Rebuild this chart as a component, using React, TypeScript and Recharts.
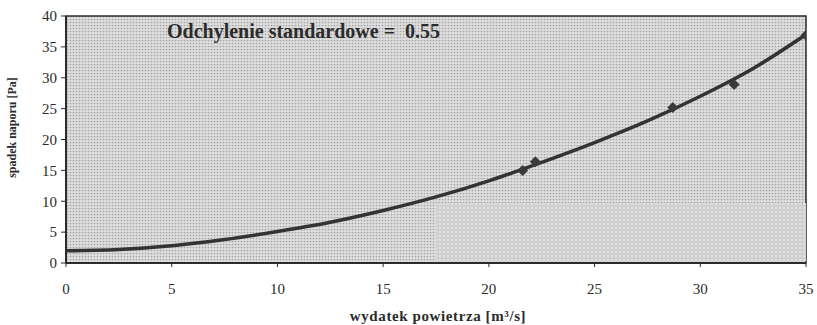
import { ComposedChart, Line, Scatter, XAxis, YAxis, ReferenceArea } from 'recharts';

// wydatek powietrza [m3/s] vs spadek naporu [Pa] - measured points
const measuredX = [21.6, 22.2, 28.7, 31.6, 35];
const measuredY = [15, 16.4, 25.2, 28.9, 36.9];

// fitted curve
const curveX = [0, 2.5, 5, 7.5, 10, 12.5, 15, 17.5, 20, 22.5, 25, 27.5, 30, 32.5, 35];
const curveY = [2, 2.2, 2.8, 3.8, 5.1, 6.6, 8.5, 10.7, 13.3, 16.3, 19.5, 23, 27, 31.5, 37];

const xTicks = [0, 5, 10, 15, 20, 25, 30, 35];
const yTicks = [0, 5, 10, 15, 20, 25, 30, 35, 40];

const title = 'Odchylenie standardowe =  0.55';

const measured = measuredX.map((x, i) => ({ x, y: measuredY[i] }));
const curve = curveX.map((x, i) => ({ x, y: curveY[i] }));

const font = '"Liberation Serif", "DejaVu Serif", serif';
const ink = '#2b2b2b';

// square rotated 45deg, like the excel marker
const Diamond = (props: any) => {
  const { cx, cy } = props;
  const r = 5.5;
  return <polygon points={`${cx},${cy - r} ${cx + r},${cy} ${cx},${cy + r} ${cx - r},${cy}`} fill="#3a3a3a" />;
};

export default function App() {
  return (
    <div style={{ position: 'absolute', left: 0, top: 0, width: 817, height: 325, background: '#fff', fontFamily: font }}>
      <ComposedChart width={817} height={325} margin={{ top: 16, right: 11, bottom: 0, left: 0 }}>
        <defs>
          <pattern id="dots" width="3" height="3" patternUnits="userSpaceOnUse">
            <rect width="3" height="3" fill="#dedede" />
            <circle cx="1.5" cy="1.5" r="0.85" fill="#a4a4a4" />
          </pattern>
          <pattern id="dotsLight" width="4" height="4" patternUnits="userSpaceOnUse">
            <rect width="4" height="4" fill="#e2e2e2" />
            <circle cx="2" cy="2" r="1.3" fill="none" stroke="#b8b8b8" strokeWidth="0.7" />
          </pattern>
        </defs>
        <XAxis
          type="number"
          dataKey="x"
          domain={[0, 35]}
          ticks={xTicks}
          allowDataOverflow
          height={62}
          axisLine={{ stroke: ink, strokeWidth: 2 }}
          tickLine={{ stroke: ink }}
          tickSize={4}
          tickMargin={16}
          tick={{ fill: ink, fontSize: 15, fontFamily: font }}
          label={{ value: 'wydatek powietrza [m³/s]', position: 'insideBottom', offset: 4, dx: 2, fill: ink, fontSize: 15, fontWeight: 'bold', fontFamily: font, letterSpacing: 0.6 }}
        />
        <YAxis
          type="number"
          dataKey="y"
          domain={[0, 40]}
          ticks={yTicks}
          allowDataOverflow
          width={66}
          axisLine={{ stroke: ink, strokeWidth: 2 }}
          tickLine={{ stroke: ink }}
          tickSize={5}
          tickMargin={4}
          tick={{ fill: ink, fontSize: 15, fontFamily: font }}
          label={{ value: 'spadek naporu [Pa]', angle: -90, position: 'insideLeft', offset: 12, dy: -12, fill: ink, fontSize: 12, fontWeight: 'bold', fontFamily: font, style: { textAnchor: 'middle' } }}
        />
        <ReferenceArea x1={0} x2={35} y1={0} y2={40} fill="url(#dots)" fillOpacity={1} stroke={ink} strokeWidth={1.5} />
        <ReferenceArea x1={17.5} x2={35} y1={0.3} y2={9.7} fill="url(#dotsLight)" fillOpacity={1} stroke="none" />
        <Line data={curve} dataKey="y" type="monotone" stroke="#333" strokeWidth={3.5} dot={false} activeDot={false} isAnimationActive={false} />
        <Scatter data={measured} dataKey="y" fill="#3a3a3a" shape={Diamond} legendType="none" isAnimationActive={false} />
      </ComposedChart>
      <div style={{ position: 'absolute', left: 167, top: 20, fontSize: 20, fontWeight: 'bold', color: ink, whiteSpace: 'pre', lineHeight: '22px' }}>
        {title}
      </div>
    </div>
  );
}
